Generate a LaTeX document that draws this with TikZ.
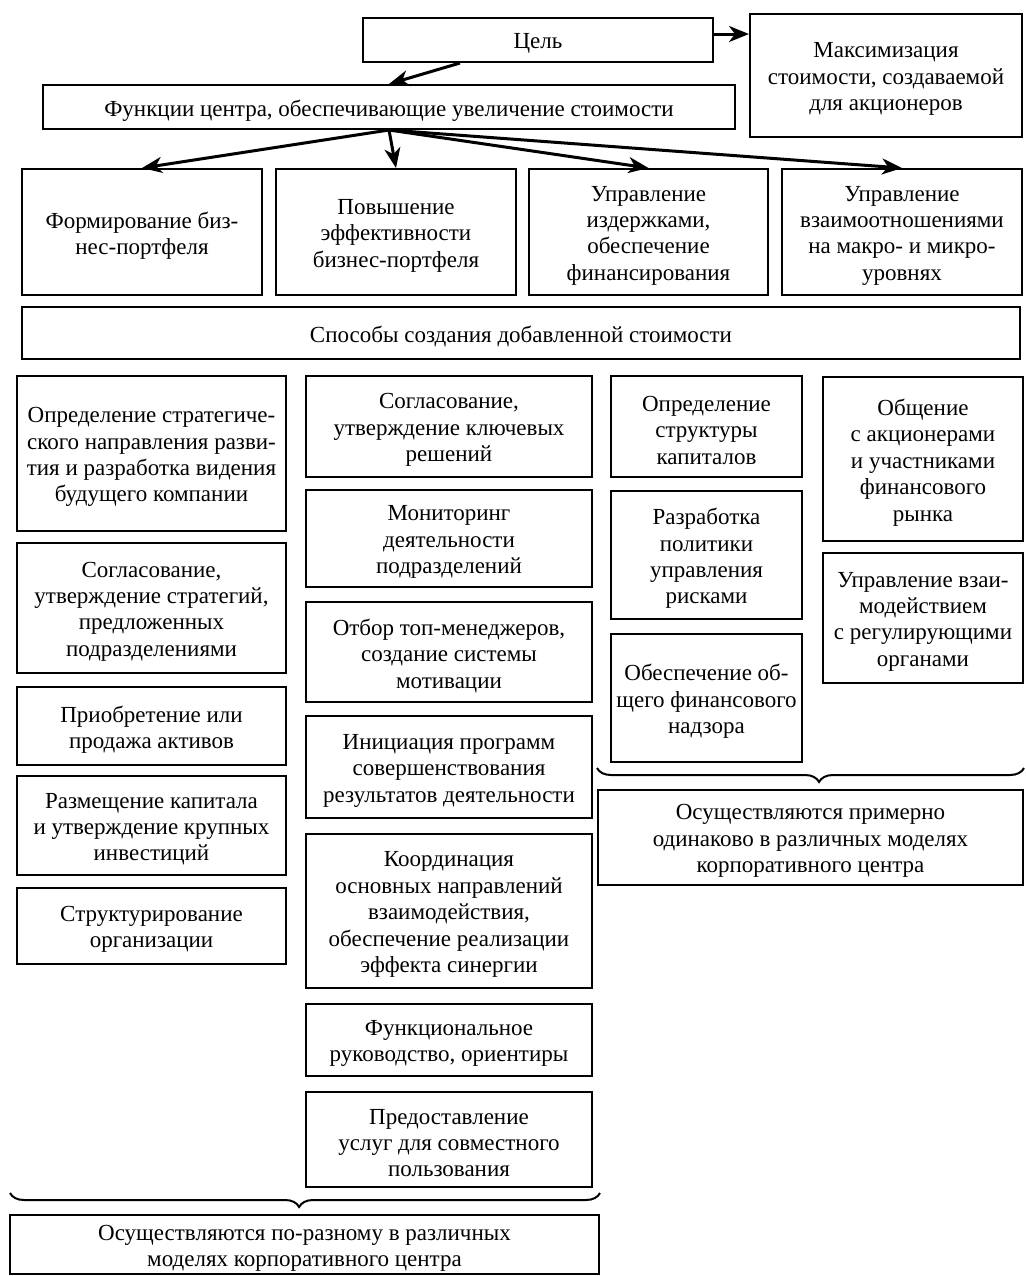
\documentclass[tikz,border=0pt]{standalone}
\usepackage{fontspec}
\setmainfont{Liberation Serif}
\usetikzlibrary{arrows.meta,decorations.pathreplacing,calc}
\newcommand\mkbox[6]{%
  \node[bx, minimum width={(#4-#2)*0.5pt}, minimum height={(#5-#3)*0.5pt}] (#1) at ({(#2+#4)/2},{(#3+#5)/2}) {};
  \node[txt] (#1-t) at ([yshift=-1.8pt]#1.center) {#6};}
\begin{document}
\begin{tikzpicture}[x=0.5pt,y=-0.5pt,
  bx/.style={draw, line width=1pt, inner sep=0pt},
  txt/.style={align=center, inner sep=0pt, font=\fontsize{11.5}{13.2}\selectfont},
  arr/.style={line width=1.5pt, -{Stealth[length=10pt,width=8pt,inset=3pt]}},
  brc/.style={decorate, line width=1pt, decoration={brace, mirror, amplitude=7pt, aspect=#1}}]
\useasboundingbox (0,0) rectangle (1025,1276);
% top
\mkbox{goal}{363}{18}{713}{62}{Цель}
\mkbox{max}{750}{14}{1022}{137}{Максимизация\\стоимости, создаваемой\\для акционеров}
\mkbox{fun}{43}{85}{735}{129}{Функции центра, обеспечивающие увеличение стоимости}
\mkbox{fa}{22}{169}{262}{295}{Формирование биз-\\нес-портфеля}
\mkbox{fb}{276}{169}{516}{295}{Повышение\\эффективности\\бизнес-портфеля}
\mkbox{fc}{529}{169}{768}{295}{Управление\\издержками,\\обеспечение\\финансирования}
\mkbox{fd}{782}{169}{1022}{295}{Управление\\взаимоотношениями\\на макро- и микро-\\уровнях}
\mkbox{way}{22}{307}{1020}{359}{Способы создания добавленной стоимости}
% column 1
\mkbox{a1}{17}{376}{286}{531}{Определение стратегиче-\\ского направления разви-\\тия и разработка видения\\будущего компании}
\mkbox{a2}{17}{543}{286}{673}{Согласование,\\утверждение стратегий,\\предложенных\\подразделениями}
\mkbox{a3}{17}{687}{286}{765}{Приобретение или\\продажа активов}
\mkbox{a4}{17}{776}{286}{875}{Размещение капитала\\и утверждение крупных\\инвестиций}
\mkbox{a5}{17}{888}{286}{964}{Структурирование\\организации}
% column 2
\mkbox{b1}{306}{376}{592}{477}{Согласование,\\утверждение ключевых\\решений}
\mkbox{b2}{306}{490}{592}{587}{Мониторинг\\деятельности\\подразделений}
\mkbox{b3}{306}{602}{592}{702}{Отбор топ-менеджеров,\\создание системы\\мотивации}
\mkbox{b4}{306}{716}{592}{818}{Инициация программ\\совершенствования\\результатов деятельности}
\mkbox{b5}{306}{834}{592}{988}{Координация\\основных направлений\\взаимодействия,\\обеспечение реализации\\эффекта синергии}
\mkbox{b6}{306}{1004}{592}{1076}{Функциональное\\руководство, ориентиры}
\mkbox{b7}{306}{1092}{592}{1187}{Предоставление\\услуг для совместного\\пользования}
% column 3
\mkbox{c1}{611}{376}{802}{477}{Определение\\структуры\\капиталов}
\mkbox{c2}{611}{491}{802}{619}{Разработка\\политики\\управления\\рисками}
\mkbox{c3}{611}{634}{802}{762}{Обеспечение об-\\щего финансового\\надзора}
% column 4
\mkbox{d1}{823}{377}{1023}{541}{Общение\\с акционерами\\и участниками\\финансового\\рынка}
\mkbox{d2}{823}{553}{1023}{683}{Управление взаи-\\модействием\\с регулирующими\\органами}
% summaries
\mkbox{same}{598}{790}{1023}{885}{Осуществляются примерно\\одинаково в различных моделях\\корпоративного центра}
\mkbox{diff}{10}{1215}{599}{1274}{Осуществляются по-разному в различных\\моделях корпоративного центра}
% braces
\coordinate (r1) at (597,768);
\coordinate (r2) at (1024,768);
\coordinate (q1) at (10,1193);
\coordinate (q2) at (600,1193);
\draw[brc=0.52] (r1) -- (r2);
\draw[brc=0.49] (q1) -- (q2);
% arrows
\draw[arr] ([yshift=3pt]goal.east) -- ([yshift=3pt]goal.east -| max.west);
\draw[arr] ([xshift=-39pt]goal.south) -- (fun.north);
\draw[arr] (fun.south) -- (fa.north);
\draw[arr] (fun.south) -- (fb.north);
\draw[arr] (fun.south) -- (fc.north);
\draw[arr] (fun.south) -- (fd.north);
\end{tikzpicture}
\end{document}
